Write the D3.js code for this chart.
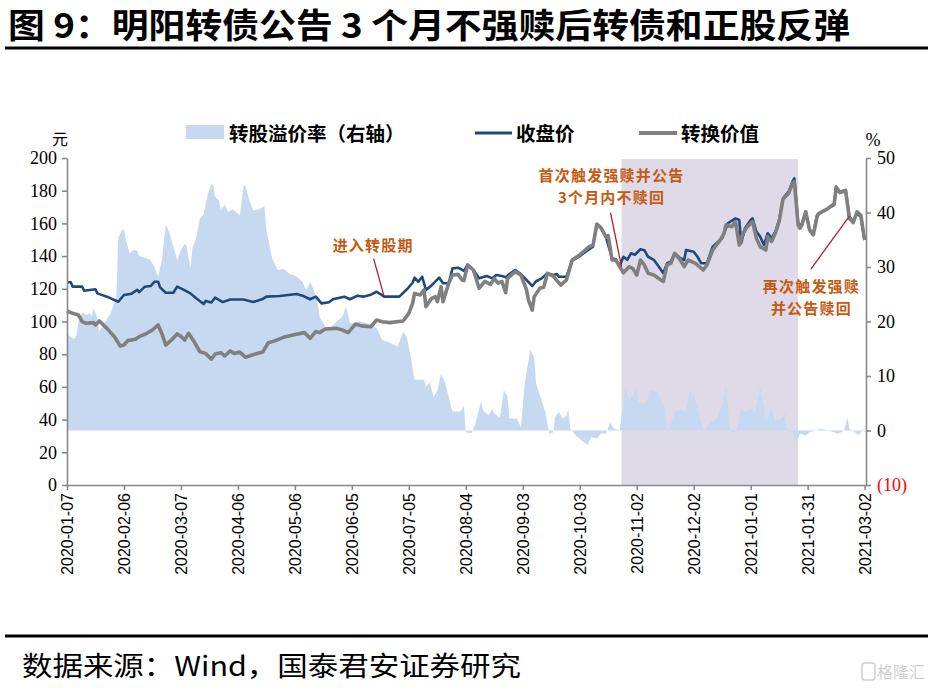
<!DOCTYPE html>
<html><head><meta charset="utf-8">
<script src="https://cdn.jsdelivr.net/npm/d3@7"></script>
<style>body{margin:0;background:#fff;} svg{display:block;}</style>
</head><body><svg id="c" width="928" height="691"></svg>
<script>
// ---------------- DATA ----------------
const closeData = [
["2020-01-07",124.0],["2020-01-09",124.0],["2020-01-10",121.3],["2020-01-15",121.3],["2020-01-16",118.8],["2020-01-22",119.7],["2020-01-23",117.2],["2020-01-28",115.2],
["2020-02-03",112.1],["2020-02-06",116.2],["2020-02-10",117.0],["2020-02-13",119.3],["2020-02-14",118.0],["2020-02-17",121.3],["2020-02-20",121.7],["2020-02-22",124.3],["2020-02-24",124.3],["2020-02-25",120.9],["2020-02-28",117.6],
["2020-03-03",117.6],["2020-03-05",121.3],["2020-03-08",119.6],["2020-03-12",117.2],["2020-03-15",114.2],["2020-03-19",110.7],["2020-03-20",112.6],["2020-03-23",111.6],["2020-03-25",114.6],["2020-03-29",111.9],
["2020-04-02",113.5],["2020-04-09",113.5],["2020-04-14",111.9],["2020-04-19",113.7],["2020-04-21",115.2],["2020-04-28",115.6],
["2020-05-07",116.8],["2020-05-10",115.8],["2020-05-14",113.6],["2020-05-17",115.2],["2020-05-20",111.1],["2020-05-24",111.8],["2020-05-26",113.6],
["2020-06-01",115.2],["2020-06-04",113.6],["2020-06-08",115.8],["2020-06-11",115.2],["2020-06-15",116.4],["2020-06-18",118.2],["2020-06-20",116.8],["2020-06-22",115.2],["2020-06-30",115.2],
["2020-07-04",119.7],["2020-07-07",123.7],["2020-07-08",126.8],["2020-07-10",124.3],["2020-07-12",127.4],["2020-07-14",119.3],["2020-07-17",122.1],["2020-07-21",126.8],["2020-07-23",123.4],["2020-07-26",123.4],["2020-07-28",132.5],["2020-07-31",132.9],
["2020-08-03",131.0],["2020-08-05",134.6],["2020-08-08",131.5],["2020-08-11",126.4],["2020-08-15",127.8],["2020-08-18",126.4],["2020-08-20",128.4],["2020-08-23",127.8],["2020-08-25",127.1],["2020-08-27",129.0],["2020-08-30",131.5],
["2020-09-02",129.0],["2020-09-05",125.4],["2020-09-08",121.7],["2020-09-10",124.6],["2020-09-13",126.4],["2020-09-16",129.5],["2020-09-19",128.4],["2020-09-21",129.0],["2020-09-22",127.4],["2020-09-26",127.4],["2020-09-29",137.2],
["2020-10-03",140.0],["2020-10-08",144.2],["2020-10-10",145.8],["2020-10-12",159.6],["2020-10-15",156.0],["2020-10-17",150.9],["2020-10-20",138.7],["2020-10-22",138.1],["2020-10-24",134.0],["2020-10-26",139.6],["2020-10-28",137.7],["2020-10-30",141.7],
["2020-11-01",140.8],["2020-11-04",144.2],["2020-11-06",143.6],["2020-11-08",139.6],["2020-11-11",137.7],["2020-11-13",134.5],["2020-11-16",129.5],["2020-11-18",135.6],["2020-11-20",136.6],["2020-11-22",141.7],["2020-11-25",138.7],["2020-11-27",137.6],["2020-11-28",143.7],
["2020-12-02",142.7],["2020-12-04",139.6],["2020-12-06",135.6],["2020-12-09",135.6],["2020-12-12",145.8],["2020-12-14",147.9],["2020-12-17",150.9],["2020-12-19",157.0],["2020-12-20",160.1],["2020-12-24",163.1],["2020-12-26",162.1],["2020-12-27",147.9],["2020-12-29",157.0],
["2021-01-01",162.1],["2021-01-02",163.1],["2021-01-04",155.0],["2021-01-06",151.9],["2021-01-08",146.8],["2021-01-10",154.0],["2021-01-12",151.0],["2021-01-14",155.0],["2021-01-16",162.1],["2021-01-18",175.3],["2021-01-21",179.4],["2021-01-23",185.5],["2021-01-24",187.6],["2021-01-26",160.1],["2021-01-27",157.6],["2021-01-28",160.1],["2021-01-30",167.2],
["2021-02-01",156.0],["2021-02-03",154.0],["2021-02-05",165.1],["2021-02-06",166.1],["2021-02-10",168.6],["2021-02-14",171.3],["2021-02-15",182.5],["2021-02-17",179.4],["2021-02-20",180.5],["2021-02-22",164.1],["2021-02-24",161.1],["2021-02-26",166.1],["2021-02-28",164.1],["2021-03-02",149.8]
];
const convData = [
["2020-01-07",106.4],["2020-01-10",105.0],["2020-01-13",104.0],["2020-01-15",99.9],["2020-01-17",98.9],["2020-01-21",99.3],["2020-01-22",97.9],["2020-01-24",100.3],["2020-01-28",95.8],
["2020-02-01",90.7],["2020-02-04",85.0],["2020-02-06",85.6],["2020-02-08",88.3],["2020-02-12",89.1],["2020-02-14",90.7],["2020-02-18",92.8],["2020-02-21",94.8],["2020-02-24",97.9],["2020-02-26",92.4],["2020-02-28",85.6],
["2020-03-02",88.7],["2020-03-05",92.4],["2020-03-07",90.9],["2020-03-09",88.7],["2020-03-11",92.8],["2020-03-14",87.6],["2020-03-17",81.5],["2020-03-20",80.5],["2020-03-23",76.9],["2020-03-25",80.1],["2020-03-28",80.9],["2020-03-30",78.9],
["2020-04-02",82.0],["2020-04-04",80.5],["2020-04-07",81.3],["2020-04-10",78.1],["2020-04-14",79.7],["2020-04-19",81.3],["2020-04-22",87.0],["2020-04-25",88.0],["2020-04-30",90.3],
["2020-05-05",91.7],["2020-05-11",93.2],["2020-05-14",89.7],["2020-05-17",93.8],["2020-05-19",93.2],["2020-05-22",95.4],["2020-05-28",95.8],["2020-05-31",94.8],
["2020-06-03",93.2],["2020-06-07",98.5],["2020-06-10",97.3],["2020-06-15",96.8],["2020-06-18",100.9],["2020-06-21",99.9],["2020-06-25",99.3],
["2020-07-02",100.3],["2020-07-05",105.0],["2020-07-07",111.1],["2020-07-08",117.2],["2020-07-11",116.2],["2020-07-13",119.3],["2020-07-14",109.1],["2020-07-17",114.2],["2020-07-19",115.2],["2020-07-20",112.1],["2020-07-22",121.3],["2020-07-23",112.1],["2020-07-26",123.4],["2020-07-28",128.4],["2020-07-31",128.8],
["2020-08-02",125.4],["2020-08-03",125.0],["2020-08-05",134.6],["2020-08-08",131.5],["2020-08-11",120.3],["2020-08-14",124.6],["2020-08-17",122.7],["2020-08-19",126.4],["2020-08-21",123.4],["2020-08-23",124.6],["2020-08-25",117.6],["2020-08-26",126.4],["2020-08-30",130.5],
["2020-09-02",128.4],["2020-09-05",119.3],["2020-09-06",113.1],["2020-09-08",107.0],["2020-09-09",115.2],["2020-09-12",120.3],["2020-09-14",121.0],["2020-09-16",129.5],["2020-09-19",127.8],["2020-09-23",122.3],["2020-09-26",125.4],["2020-09-29",137.6],
["2020-10-03",140.7],["2020-10-08",145.8],["2020-10-10",146.8],["2020-10-12",159.6],["2020-10-14",157.6],["2020-10-17",151.5],["2020-10-18",152.5],["2020-10-20",137.6],["2020-10-22",137.6],["2020-10-24",133.5],["2020-10-26",129.8],["2020-10-29",133.5],["2020-10-31",132.3],
["2020-11-02",128.4],["2020-11-04",137.6],["2020-11-06",134.6],["2020-11-08",129.5],["2020-11-11",128.4],["2020-11-14",126.0],["2020-11-16",124.5],["2020-11-18",134.6],["2020-11-20",135.6],["2020-11-22",141.7],["2020-11-25",137.6],["2020-11-27",133.5],["2020-11-29",137.6],
["2020-12-03",135.6],["2020-12-05",133.5],["2020-12-07",131.5],["2020-12-09",134.6],["2020-12-12",143.7],["2020-12-14",146.8],["2020-12-16",149.8],["2020-12-18",154.0],["2020-12-19",159.0],["2020-12-22",158.0],["2020-12-24",161.1],["2020-12-26",146.8],["2020-12-28",154.0],["2020-12-30",157.6],
["2021-01-02",161.1],["2021-01-04",151.0],["2021-01-06",145.8],["2021-01-09",143.7],["2021-01-10",151.9],["2021-01-12",148.9],["2021-01-14",154.0],["2021-01-16",161.1],["2021-01-18",174.7],["2021-01-21",178.4],["2021-01-23",184.5],["2021-01-24",185.5],["2021-01-26",159.0],["2021-01-27",157.0],["2021-01-28",159.0],["2021-01-30",167.2],
["2021-02-01",156.0],["2021-02-03",153.0],["2021-02-05",164.1],["2021-02-06",166.1],["2021-02-10",168.6],["2021-02-14",172.0],["2021-02-15",182.0],["2021-02-17",178.8],["2021-02-20",180.0],["2021-02-22",163.0],["2021-02-24",160.5],["2021-02-26",167.0],["2021-02-28",165.1],["2021-03-02",149.8]
];
const premiumData = [
["2020-01-07",17.8],["2020-01-09",17.1],["2020-01-11",16.8],["2020-01-12",17.5],["2020-01-13",20.0],["2020-01-15",21.7],["2020-01-17",21.2],["2020-01-19",21.5],["2020-01-20",20.9],["2020-01-21",22.5],["2020-01-23",20.6],["2020-01-24",18.1],["2020-01-26",19.4],["2020-01-30",21.5],
["2020-02-02",24.6],["2020-02-03",35.3],["2020-02-05",36.8],["2020-02-06",36.9],["2020-02-07",35.0],["2020-02-09",32.5],["2020-02-11",33.1],["2020-02-13",33.0],["2020-02-14",32.0],["2020-02-18",31.6],["2020-02-20",31.3],["2020-02-22",30.0],["2020-02-24",28.2],["2020-02-26",31.3],["2020-02-28",37.9],
["2020-03-01",36.2],["2020-03-03",33.7],["2020-03-05",31.3],["2020-03-07",33.1],["2020-03-09",34.2],["2020-03-10",33.8],["2020-03-12",29.8],["2020-03-13",33.4],["2020-03-15",35.3],["2020-03-17",38.9],["2020-03-19",39.7],["2020-03-21",43.2],["2020-03-23",45.2],["2020-03-24",45.0],["2020-03-25",42.9],["2020-03-27",42.2],["2020-03-28",40.6],["2020-03-30",41.4],
["2020-04-01",40.1],["2020-04-03",40.6],["2020-04-05",40.1],["2020-04-07",39.5],["2020-04-09",44.9],["2020-04-10",44.9],["2020-04-12",42.3],["2020-04-14",40.3],["2020-04-17",40.6],["2020-04-20",41.1],["2020-04-21",36.8],["2020-04-24",31.6],["2020-04-27",29.4],["2020-04-30",29.7],
["2020-05-03",28.8],["2020-05-07",28.2],["2020-05-10",27.3],["2020-05-12",25.8],["2020-05-14",27.3],["2020-05-16",25.8],["2020-05-18",23.3],["2020-05-19",20.9],["2020-05-22",19.0],["2020-05-25",19.0],["2020-05-31",20.9],
["2020-06-02",22.7],["2020-06-04",19.7],["2020-06-08",19.8],["2020-06-09",20.1],["2020-06-15",19.4],["2020-06-18",18.8],["2020-06-21",16.6],["2020-06-24",16.3],["2020-06-29",15.4],["2020-06-30",16.2],
["2020-07-02",18.1],["2020-07-04",17.1],["2020-07-06",13.5],["2020-07-08",9.3],["2020-07-13",9.3],["2020-07-14",8.0],["2020-07-16",8.8],["2020-07-18",6.2],["2020-07-20",7.3],["2020-07-22",10.4],["2020-07-24",8.8],["2020-07-26",6.2],["2020-07-28",3.5],
["2020-08-01",3.5],["2020-08-03",4.4],["2020-08-04",-0.3],["2020-08-07",-0.5],["2020-08-09",1.2],["2020-08-12",5.3],["2020-08-13",3.7],["2020-08-16",2.8],["2020-08-18",4.0],["2020-08-19",3.1],["2020-08-22",2.4],["2020-08-24",7.4],["2020-08-26",6.2],["2020-08-27",2.2],["2020-08-31",2.2],
["2020-09-02",0.6],["2020-09-04",8.6],["2020-09-07",14.8],["2020-09-09",13.3],["2020-09-10",8.6],["2020-09-13",5.5],["2020-09-15",3.1],["2020-09-17",-0.6],["2020-09-19",-0.3],["2020-09-20",2.4],["2020-09-22",3.4],["2020-09-24",2.2],["2020-09-26",2.6],["2020-09-27",4.0],["2020-09-28",0.3],
["2020-10-01",-0.9],["2020-10-07",-2.7],["2020-10-09",-1.2],["2020-10-12",-1.5],["2020-10-14",-0.6],["2020-10-17",-0.5],["2020-10-19",1.5],["2020-10-21",0.3],["2020-10-24",0.0],["2020-10-27",7.8],["2020-10-29",5.5],
["2020-11-02",7.6],["2020-11-03",5.2],["2020-11-07",4.9],["2020-11-09",7.6],["2020-11-13",7.0],["2020-11-15",5.5],["2020-11-17",4.0],["2020-11-18",-0.3],["2020-11-20",1.2],["2020-11-22",3.4],["2020-11-25",4.0],["2020-11-28",3.4],["2020-11-30",7.3],
["2020-12-02",6.7],["2020-12-04",4.0],["2020-12-07",0.0],["2020-12-11",1.5],["2020-12-14",2.1],["2020-12-17",4.9],["2020-12-19",8.1],["2020-12-21",0.3],["2020-12-23",-0.6],["2020-12-25",0.3],["2020-12-27",4.3],["2020-12-29",3.4],["2020-12-31",3.7],
["2021-01-02",4.3],["2021-01-03",3.4],["2021-01-06",8.0],["2021-01-08",4.3],["2021-01-09",1.8],["2021-01-12",4.0],["2021-01-14",1.8],["2021-01-17",2.1],["2021-01-19",3.1],["2021-01-20",0.3],["2021-01-23",-0.3],["2021-01-25",-2.1],["2021-01-27",-0.6],["2021-01-30",-0.9],
["2021-02-01",-0.3],["2021-02-07",0.3],["2021-02-11",0.0],["2021-02-16",-0.6],["2021-02-19",-0.1],["2021-02-21",2.3],["2021-02-22",0.3],["2021-02-25",-0.3],["2021-02-27",-0.9],["2021-03-01",0.3],["2021-03-02",-0.3]
];
const xTickLabels = ["2020-01-07","2020-02-06","2020-03-07","2020-04-06","2020-05-06","2020-06-05","2020-07-05","2020-08-04","2020-09-03","2020-10-03","2020-11-02","2020-12-02","2021-01-01","2021-01-31","2021-03-02"];
const leftTicks = [0,20,40,60,80,100,120,140,160,180,200];
const rightTicks = [-10,0,10,20,30,40,50];
const shadePeriod = ["2020-10-25","2021-01-26"];
const seriesNames = ["转股溢价率（右轴）","收盘价","转换价值"];
const titleText = "图 9：明阳转债公告 3 个月不强赎后转债和正股反弹";
const sourceText = "数据来源：Wind，国泰君安证券研究";
const annotations = [
  {lines:["进入转股期"], date:"2020-06-22", value:115.2},
  {lines:["首次触发强赎并公告","3个月内不赎回"], date:"2020-10-25", value:133.5},
  {lines:["再次触发强赎","并公告赎回"], date:"2021-02-22", value:164.5}
];

// ---------------- LAYOUT ----------------
// tx/ty: centre of first text line relative to the anchor point; lx/ly: start of the leader line
const annLayout = [
  {tx:-11, ty:-52, lx:-10.5, ly:-38},
  {tx:-10, ty:-92, lx:-11, ly:-54},
  {tx:-38, ty:69, lx:-38.5, ly:53}
];
const annLineGap = 22;
const C = {blue:"#1F497D", gray:"#808080", area:"#C6D9F0", shade:"#DFDAE8", axis:"#898989", ann:"#C55A11", annLine:"#B0222A"};
const cjk = "'Noto Sans CJK SC','Noto Sans',sans-serif";
const serif = "'Liberation Serif','DejaVu Serif',serif";

const parse = d3.utcParse("%Y-%m-%d");
const svg = d3.select("#c");
const x = d3.scaleUtc().domain([parse("2020-01-07"), parse("2021-03-03")]).range([67, 866.5]);
const yL = d3.scaleLinear().domain([0,200]).range([485,158]);
const yR = d3.scaleLinear().domain([-10,50]).range([485,158]);

const toObj = a => a.map(d => ({date: parse(d[0]), v: d[1]}));
const close = toObj(closeData), conv = toObj(convData), prem = toObj(premiumData);

// Title
svg.append("text").attr("x",8).attr("y",38).attr("font-family",cjk).attr("font-weight",700)
  .attr("font-size",34).attr("textLength",842).attr("lengthAdjust","spacingAndGlyphs").attr("fill","#000").text(titleText);
svg.append("line").attr("x1",5).attr("x2",928).attr("y1",48).attr("y2",48).attr("stroke","#000").attr("stroke-width",3);
svg.append("line").attr("x1",5).attr("x2",928).attr("y1",636).attr("y2",636).attr("stroke","#000").attr("stroke-width",3);
svg.append("text").attr("x",22).attr("y",676).attr("font-family",cjk).attr("font-size",27)
  .attr("textLength",499).attr("lengthAdjust","spacingAndGlyphs").attr("fill","#000").text(sourceText);
// watermark
const wm = svg.append("g").attr("opacity",0.35);
wm.append("rect").attr("x",862).attr("y",663).attr("width",13).attr("height",17).attr("rx",3).attr("fill","none").attr("stroke","#777").attr("stroke-width",1.5);
wm.append("text").attr("x",877).attr("y",678).attr("font-family",cjk).attr("font-size",16).attr("fill","#777").text("格隆汇");

// Shade
svg.append("rect").attr("x",x(parse(shadePeriod[0]))).attr("y",159)
  .attr("width",x(parse(shadePeriod[1]))-x(parse(shadePeriod[0]))).attr("height",yL(0)-159).attr("fill",C.shade);

// Area
svg.append("path").datum(prem).attr("fill",C.area)
  .attr("d", d3.area().x(d=>x(d.date)).y0(yR(0)).y1(d=>yR(d.v)));

// Lines
const lineL = d3.line().x(d=>x(d.date)).y(d=>yL(d.v));
svg.append("path").datum(close).attr("fill","none").attr("stroke",C.blue).attr("stroke-width",2.6).attr("stroke-linejoin","round").attr("d",lineL);
svg.append("path").datum(conv).attr("fill","none").attr("stroke",C.gray).attr("stroke-width",3.6).attr("stroke-linejoin","round").attr("d",lineL);

// Axes
function styleAxis(g){
  g.select(".domain").attr("stroke",C.axis).attr("stroke-width",1.6);
  g.selectAll(".tick line").attr("stroke",C.axis).attr("stroke-width",1.6);
  g.selectAll(".tick text").attr("fill","#000");
}
const gL = svg.append("g").attr("transform","translate(67,0)")
  .call(d3.axisLeft(yL).tickValues(leftTicks).tickSize(5).tickSizeOuter(0).tickPadding(5).tickFormat(d3.format("d")));
gL.attr("font-family",serif).attr("font-size",18); styleAxis(gL);
const gR = svg.append("g").attr("transform","translate(866,0)")
  .call(d3.axisRight(yR).tickValues(rightTicks).tickSize(5).tickSizeOuter(0).tickPadding(6).tickFormat(v => v<0 ? "("+(-v)+")" : v));
gR.attr("font-family",serif).attr("font-size",18); styleAxis(gR);
gR.selectAll(".tick text").attr("fill", d => d<0 ? "#FF0000" : "#000");
const gX = svg.append("g").attr("transform","translate(0,485)")
  .call(d3.axisBottom(x).tickValues(xTickLabels.map(parse)).tickSize(5).tickSizeOuter(0).tickFormat(d3.utcFormat("%Y-%m-%d")));
gX.attr("font-family","'Liberation Sans',Arial,sans-serif").attr("font-size",16); styleAxis(gX);
gX.selectAll(".tick text").attr("transform","rotate(-90)").attr("x",-8).attr("y",0).attr("dy","0.35em").style("text-anchor","end");

// Unit labels
svg.append("text").attr("x",60).attr("y",138).attr("text-anchor","middle").attr("dominant-baseline","central")
  .attr("font-family",cjk).attr("font-size",16).text("元");
svg.append("text").attr("x",873).attr("y",140).attr("text-anchor","middle").attr("dominant-baseline","central")
  .attr("font-family",serif).attr("font-size",18).text("%");

// Legend
const lg = svg.append("g").attr("font-family",cjk).attr("font-weight",700).attr("font-size",19.5);
lg.append("rect").attr("x",186).attr("y",125).attr("width",38).attr("height",14).attr("fill",C.area);
lg.append("text").attr("x",229).attr("y",132).attr("dominant-baseline","central").text(seriesNames[0]);
lg.append("line").attr("x1",475).attr("x2",512).attr("y1",133).attr("y2",133).attr("stroke",C.blue).attr("stroke-width",3);
lg.append("text").attr("x",516).attr("y",132).attr("dominant-baseline","central").text(seriesNames[1]);
lg.append("line").attr("x1",639).attr("x2",677).attr("y1",133).attr("y2",133).attr("stroke",C.gray).attr("stroke-width",4);
lg.append("text").attr("x",681).attr("y",132).attr("dominant-baseline","central").text(seriesNames[2]);

// Annotations
annotations.forEach((a,i) => {
  const L = annLayout[i];
  const px = x(parse(a.date)), py = yL(a.value);
  svg.append("line").attr("x1",px+L.lx).attr("y1",py+L.ly).attr("x2",px).attr("y2",py)
    .attr("stroke",C.annLine).attr("stroke-width",1.3);
  a.lines.forEach((t,j) => {
    svg.append("text").attr("x",px+L.tx).attr("y",py+L.ty + j*annLineGap)
      .attr("text-anchor","middle").attr("dominant-baseline","central")
      .attr("font-family",cjk).attr("font-weight",700).attr("font-size",15).attr("letter-spacing",1.2)
      .attr("fill",C.ann).text(t);
  });
});
</script></body></html>
